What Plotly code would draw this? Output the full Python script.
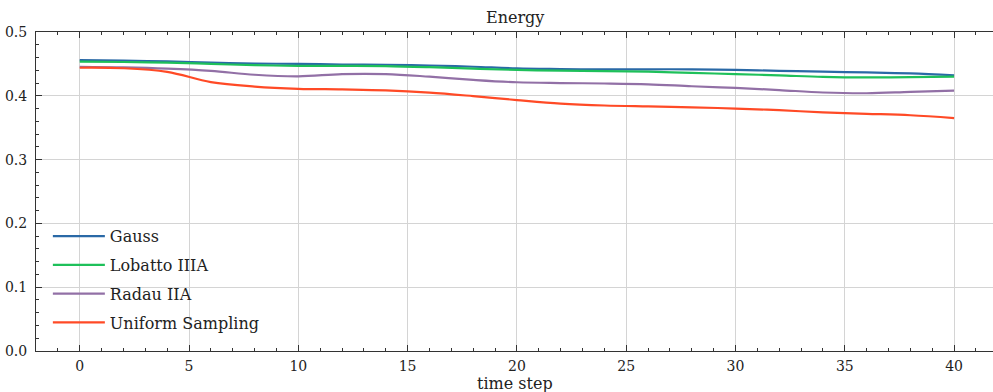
import plotly.graph_objects as go

time_steps = [0, 2, 4, 6, 8, 10, 12, 14, 16, 18, 20, 22, 24, 26, 28, 30, 32, 34, 36, 38, 40]

gauss = [0.4560, 0.4550, 0.4540, 0.4520, 0.4505, 0.4500, 0.4490, 0.4487, 0.4475, 0.4455, 0.4430,
         0.4420, 0.4413, 0.4415, 0.4415, 0.4405, 0.4392, 0.4378, 0.4367, 0.4350, 0.4322]
lobatto = [0.4535, 0.4530, 0.4520, 0.4500, 0.4480, 0.4470, 0.4468, 0.4465, 0.4448, 0.4425, 0.4405,
           0.4395, 0.4387, 0.4378, 0.4360, 0.4340, 0.4320, 0.4297, 0.4288, 0.4292, 0.4300]
radau = [0.4455, 0.4445, 0.4425, 0.4390, 0.4330, 0.4305, 0.4340, 0.4340, 0.4300, 0.4250, 0.4212,
         0.4200, 0.4193, 0.4180, 0.4150, 0.4124, 0.4090, 0.4052, 0.4040, 0.4062, 0.4082]
uniform = [0.4440, 0.4432, 0.4375, 0.4215, 0.4145, 0.4110, 0.4100, 0.4085, 0.4050, 0.3995, 0.3933,
           0.3878, 0.3848, 0.3833, 0.3820, 0.3800, 0.3775, 0.3740, 0.3718, 0.3695, 0.3651]

series_names = ["Gauss", "Lobatto IIIA", "Radau IIA", "Uniform Sampling"]
series_values = [gauss, lobatto, radau, uniform]
colors = ["#2a69a6", "#1ec05a", "#9270a6", "#ff4a26"]

x_ticks = [0, 5, 10, 15, 20, 25, 30, 35, 40]
y_ticks = [0.0, 0.1, 0.2, 0.3, 0.4, 0.5]

FONT = "DejaVu Serif"
TXT = "#222222"

fig = go.Figure()
for name, vals, col in zip(series_names, series_values, colors):
    fig.add_trace(go.Scatter(
        x=time_steps, y=vals, mode="lines", name=name, legendgroup=name,
        line=dict(color=col, width=2.2, shape="spline", smoothing=1.0),
    ))

axis_common = dict(
    showline=True, linecolor="#333333", linewidth=1,
    ticks="inside", tickcolor="#333333", ticklen=6, tickwidth=1,
    showgrid=True, gridcolor="#d4d4d4", gridwidth=1,
    zeroline=False, automargin=False,
    tickfont=dict(family=FONT, size=14, color=TXT),
)

fig.update_layout(
    width=993, height=392,
    margin=dict(l=36, r=0, t=32, b=41, autoexpand=False),
    paper_bgcolor="white", plot_bgcolor="white",
    xaxis=dict(
        range=[-2, 41.78], tickvals=x_ticks, mirror="ticks", ticklabelstandoff=2,
        minor=dict(dtick=1, ticks="inside", ticklen=3, tickcolor="#333333", showgrid=False),
        **axis_common,
    ),
    yaxis=dict(
        range=[0, 0.5], tickvals=y_ticks, tickformat=".1f", mirror=False, ticklabelstandoff=5,
        minor=dict(dtick=0.02, ticks="inside", ticklen=3, tickcolor="#333333", showgrid=False),
        **axis_common,
    ),
    legend=dict(
        x=0.0124, y=0.034, xanchor="left", yanchor="bottom",
        bgcolor="rgba(0,0,0,0)", borderwidth=0,
        font=dict(family=FONT, size=16, color=TXT),
        traceorder="grouped", tracegroupgap=5, itemwidth=52,
    ),
    annotations=[
        dict(text="Energy", xref="paper", yref="paper", x=0.5, y=1.0, yshift=15,
             xanchor="center", yanchor="middle", showarrow=False,
             font=dict(family=FONT, size=16, color=TXT)),
        dict(text="time step", xref="paper", yref="paper", x=0.5, y=0.0, yshift=-32,
             xanchor="center", yanchor="middle", showarrow=False,
             font=dict(family=FONT, size=16, color=TXT)),
    ],
    showlegend=True,
)

fig.write_html(
    "out.html",
    config={"displayModeBar": False},
    post_script="document.body.style.margin='0';document.body.style.overflow='hidden';",
)
